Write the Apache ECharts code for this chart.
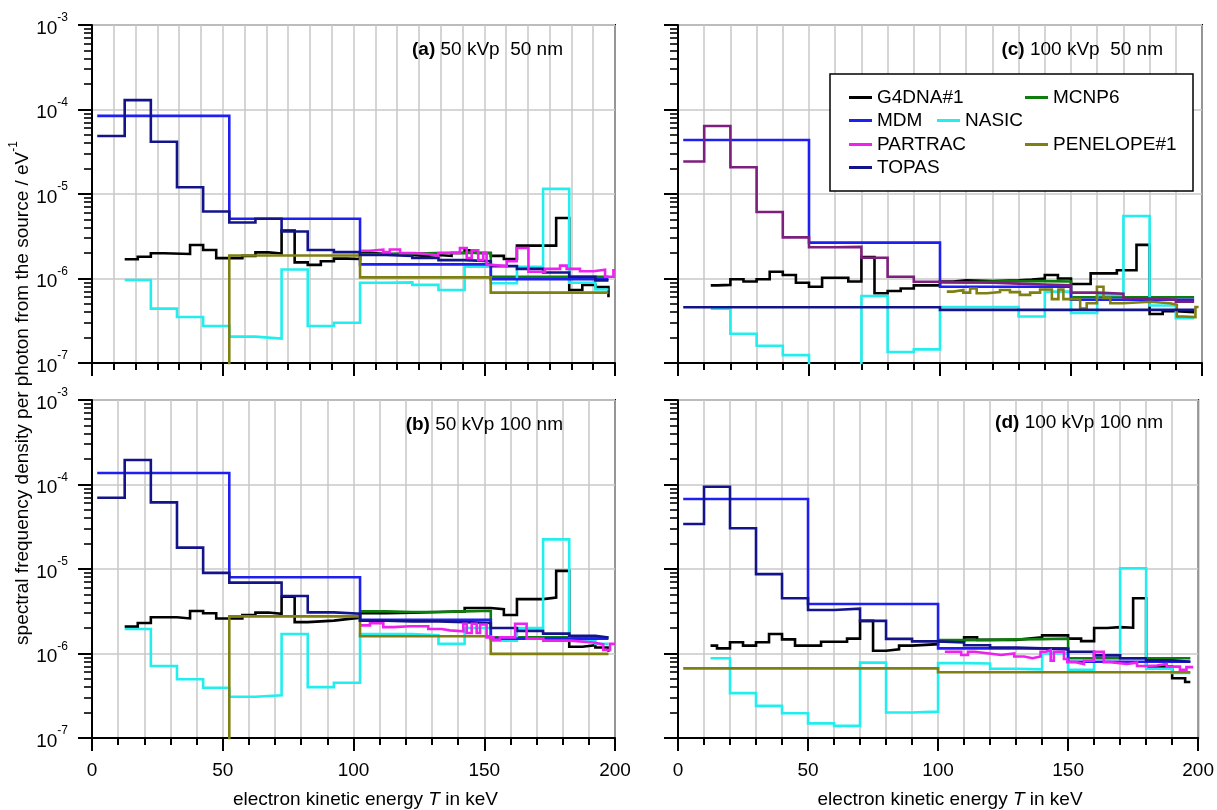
<!DOCTYPE html>
<html>
<head>
<meta charset="utf-8">
<script src="https://cdn.jsdelivr.net/npm/echarts@6.0.0/dist/echarts.min.js"></script>
<style>html,body{margin:0;padding:0;background:#fff}#chart{width:1217px;height:810px}</style>
</head>
<body>
<div id="chart"></div>
<script>
// ---------------- DATA (bin edges in keV, values per bin) ----------------
// Panel (a) 50 kVp 50 nm
const aG4_x = [12.5,17.5,22.5,27.5,37.5,42.5,47.5,57.5,62.5,67.5,72.5,77.5,82.5,87.5,92.5,97.5,102.5,107.5,112.5,117.5,122.5,127.5,132.5,137.5,142.5,147.5,152.5,157.5,162.5,177.5,182.5,187.5,192.5,197.5];
const aG4_y = [1.69e-6,1.81e-6,1.99e-6,1.95e-6,2.49e-6,2.17e-6,1.74e-6,1.85e-6,2.04e-6,1.98e-6,3.7e-6,1.55e-6,1.45e-6,1.6e-6,1.72e-6,1.7e-6,2.0e-6,1.95e-6,1.95e-6,1.9e-6,1.85e-6,1.9e-6,1.85e-6,2.0e-6,2.15e-6,2.0e-6,1.85e-6,1.7e-6,2.45e-6,5.2e-6,7.3e-7,8.4e-7,7.9e-7,6.0e-7];
const aMC_x = [102.5,112.5,122.5,132.5,142.5,152.5,197.5];
const aMC_y = [1.95e-6,1.97e-6,2.0e-6,2.02e-6,2.0e-6,1.05e-6];
const aMD_x = [2,52.5,102.5,152.5,197.5];
const aMD_y = [8.4e-5,5.1e-6,1.47e-6,9.8e-7];
const aNA_x = [12.5,22.5,32.5,42.5,52.5,62.5,72.5,82.5,92.5,102.5,112.5,122.5,132.5,142.5,152.5,162.5,172.5,182.5,192.5,197.5];
const aNA_y = [9.6e-7,4.4e-7,3.5e-7,2.74e-7,2.05e-7,1.95e-7,1.28e-6,2.74e-7,3.0e-7,8.9e-7,9.0e-7,8.4e-7,7.3e-7,1.38e-6,8.8e-7,1.38e-6,1.15e-5,8.9e-7,7.4e-7];
const aPA_x = [102.9,106.3,111.4,113.9,117.8,123.5,128,132.4,140.7,143.3,145.2,147.7,149.6,150.9,152.8,158.6,162.4,166.9,173.2,179,181.5,186.6,191.7,196.2,199.4,200];
const aPA_y = [2.13e-6,2.2e-6,2.05e-6,2.2e-6,2.0e-6,1.95e-6,1.87e-6,2.0e-6,2.3e-6,1.75e-6,2.15e-6,1.65e-6,2.0e-6,1.45e-6,1.4e-6,1.6e-6,2.3e-6,1.2e-6,1.3e-6,1.42e-6,1.3e-6,1.22e-6,1.27e-6,1.05e-6,1.25e-6];
const aPE_x = [42.5,52.5,102.5,152.5,197.5];
const aPE_y = [1e-8,1.87e-6,1.03e-6,6.8e-7];
const aTO_x = [2,12.5,22.5,32.5,42.5,52.5,62.5,72.5,82.5,92.5,102.5,112.5,122.5,132.5,142.5,152.5,162.5,172.5,182.5,192.5,197.5];
const aTO_y = [4.85e-5,1.29e-4,4.16e-5,1.2e-5,6.2e-6,4.6e-6,5.1e-6,3.6e-6,2.17e-6,2.05e-6,1.9e-6,1.85e-6,1.75e-6,1.65e-6,1.6e-6,1.4e-6,1.3e-6,1.18e-6,1.05e-6,9.5e-7];

// Panel (b) 50 kVp 100 nm
const bG4_x = [12.5,17.5,22.5,32.5,37.5,42.5,47.5,57.5,62.5,67.5,72.5,77.5,82.5,87.5,92.5,97.5,102.5,112.5,122.5,132.5,142.5,152.5,157.5,162.5,172.5,177.5,182.5,187.5,192.5,197.5];
const bG4_y = [2.08e-6,2.3e-6,2.69e-6,2.6e-6,3.19e-6,3.0e-6,2.6e-6,2.85e-6,3.05e-6,2.95e-6,4.7e-6,2.35e-6,2.4e-6,2.45e-6,2.55e-6,2.65e-6,3.0e-6,3.05e-6,3.1e-6,3.15e-6,3.45e-6,3.35e-6,2.85e-6,4.4e-6,4.6e-6,9.5e-6,1.2e-6,1.25e-6,1.18e-6,1.05e-6];
const bMC_x = [102.5,112.5,122.5,132.5,142.5,152.5,197.5];
const bMC_y = [3.15e-6,3.1e-6,3.1e-6,3.15e-6,3.2e-6,1.55e-6];
const bMD_x = [2,52.5,102.5,152.5,197.5];
const bMD_y = [1.37e-4,8.0e-6,2.5e-6,1.5e-6];
const bNA_x = [12.5,22.5,32.5,42.5,52.5,62.5,72.5,82.5,92.5,102.5,112.5,122.5,132.5,142.5,152.5,162.5,172.5,182.5,192.5,197.5];
const bNA_y = [1.95e-6,7.1e-7,4.95e-7,3.93e-7,3.08e-7,3.2e-7,1.7e-6,4.0e-7,4.5e-7,1.7e-6,1.7e-6,1.65e-6,1.3e-6,2.0e-6,1.42e-6,2.0e-6,2.24e-5,1.45e-6,1.3e-6];
const bPA_x = [102.9,106.3,111.4,115.2,121.6,128.6,133.7,136.9,142,143.3,145.2,147.1,148.4,150.9,153.5,156,161.8,166.2,172.6,182.8,191.7,195.5,198.1,200];
const bPA_y = [2.15e-6,2.28e-6,2.05e-6,2.1e-6,2.1e-6,1.95e-6,1.88e-6,1.83e-6,2.25e-6,1.75e-6,2.25e-6,1.75e-6,2.2e-6,1.55e-6,1.45e-6,1.55e-6,2.25e-6,1.5e-6,1.42e-6,1.35e-6,1.28e-6,1.1e-6,1.3e-6];
const bPE_x = [42.5,52.5,102.5,152.5,197.5];
const bPE_y = [1e-8,2.75e-6,1.6e-6,9.9e-7];
const bTO_x = [2,12.5,22.5,32.5,42.5,52.5,72.5,82.5,92.5,102.5,112.5,122.5,132.5,142.5,152.5,162.5,172.5,182.5,192.5,197.5];
const bTO_y = [6.98e-5,1.95e-4,6.15e-5,1.79e-5,9.0e-6,6.9e-6,4.8e-6,3.07e-6,2.95e-6,2.45e-6,2.4e-6,2.4e-6,2.35e-6,2.3e-6,2.0e-6,1.85e-6,1.72e-6,1.62e-6,1.55e-6];

// Panel (c) 100 kVp 50 nm
const cG4_x = [12.5,15,20,25,30,35,40,45,50,55,65,70,75,80,85,90,100,105,110,120,130,135,140,145,150,157.5,167.5,175,180,185,190,197];
const cG4_y = [8.3e-7,8.4e-7,9.8e-7,9.2e-7,9.8e-7,1.2e-6,1.1e-6,8.9e-7,8.0e-7,1.02e-6,9.2e-7,1.8e-6,6.7e-7,7.1e-7,7.6e-7,8.3e-7,9.2e-7,9.5e-7,9.3e-7,9.5e-7,9.7e-7,1.0e-6,1.1e-6,1.0e-6,8.6e-7,1.15e-6,1.25e-6,2.5e-6,3.8e-7,4.1e-7,4.0e-7];
const cMC_x = [100,110,120,130,140,150,197];
const cMC_y = [9.0e-7,9.2e-7,9.3e-7,9.3e-7,9.2e-7,6.0e-7];
const cMD_x = [2,50,100,150,197];
const cMD_y = [4.36e-5,2.66e-6,8.0e-7,5.6e-7];
const cNA_x = [12.5,20,30,40,50,70,80,90,100,110,120,130,140,150,160,170,180,190,197];
const cNA_y = [4.4e-7,2.22e-7,1.6e-7,1.24e-7,9e-8,6.2e-7,1.35e-7,1.45e-7,4.6e-7,4.6e-7,4.6e-7,3.55e-7,7.0e-7,3.9e-7,6.4e-7,5.5e-6,4.8e-7,3.4e-7];
const cPA_x = [2,10,20,30,40,50,60,70,80,90,100,110,120,130,140,150,160,170,180,190,197];
const cPA_y = [2.42e-5,6.38e-5,2.07e-5,6.12e-6,3.07e-6,2.34e-6,2.37e-6,1.76e-6,1.05e-6,9.16e-7,9.0e-7,8.9e-7,8.7e-7,8.5e-7,8.3e-7,6.8e-7,6.6e-7,5.8e-7,5.6e-7,5.3e-7];
const cPE_x = [102.6,105.1,108.9,111.5,114,117.8,122.9,126.7,130.5,134.4,138.2,142.7,145.2,147.1,149.7,153.5,156,159.9,162.4,165,170,180.2,187.8,190.4,193,197.5,198.7];
const cPE_y = [7.0e-7,7.3e-7,6.8e-7,7.6e-7,6.7e-7,6.9e-7,7.3e-7,6.9e-7,6.4e-7,6.8e-7,7.4e-7,5.7e-7,7.4e-7,5.7e-7,5.7e-7,4.4e-7,5.1e-7,8.0e-7,5.9e-7,5.1e-7,5.3e-7,5.1e-7,4.9e-7,3.55e-7,3.5e-7,4.6e-7];
const cTO_x = [2,100,197];
const cTO_y = [4.56e-7,4.25e-7];

// Panel (d) 100 kVp 100 nm
const dG4_x = [12.5,15,20,25,30,35,40,45,55,65,70,75,80,85,90,100,110,115,130,135,140,150,155,160,165,170,175,180,190,195,197];
const dG4_y = [1.24e-6,1.15e-6,1.36e-6,1.24e-6,1.36e-6,1.7e-6,1.47e-6,1.24e-6,1.38e-6,1.5e-6,2.43e-6,1.08e-6,1.12e-6,1.24e-6,1.29e-6,1.4e-6,1.55e-6,1.45e-6,1.5e-6,1.55e-6,1.64e-6,1.5e-6,1.4e-6,2.0e-6,2.05e-6,2.02e-6,4.5e-6,7.0e-7,5.1e-7,4.6e-7];
const dMC_x = [100,110,120,130,140,150,197];
const dMC_y = [1.44e-6,1.45e-6,1.47e-6,1.48e-6,1.5e-6,8.8e-7];
const dMD_x = [2,50,100,150,197];
const dMD_y = [6.73e-5,3.86e-6,1.15e-6,8.0e-7];
const dNA_x = [12.5,20,30,40,50,60,70,80,90,100,110,120,130,140,150,160,170,180,190,197];
const dNA_y = [8.8e-7,3.4e-7,2.4e-7,1.96e-7,1.49e-7,1.39e-7,7.8e-7,2.0e-7,2.05e-7,7.7e-7,7.6e-7,6.6e-7,6.5e-7,1.0e-6,6.4e-7,9.6e-7,1.02e-5,6.6e-7,5.9e-7];
const dPA_x = [102.6,108.9,111.5,114,119.7,124.2,129.3,133.1,136.3,139.4,141.4,143.3,144.5,148.4,149.7,152.9,156.1,159.9,163.7,166.2,172.6,176.5,180.3,184.1,187.9,193,195.5,198.1];
const dPA_y = [1.05e-6,9.6e-7,1.05e-6,1.0e-6,9.6e-7,1.0e-6,9.2e-7,8.8e-7,9.2e-7,1.05e-6,1.1e-6,8.2e-7,1.05e-6,8.6e-7,7.9e-7,7.5e-7,8.2e-7,1.05e-6,7.9e-7,7.5e-7,7.8e-7,7.1e-7,7.2e-7,7.5e-7,7.0e-7,6.4e-7,6.9e-7];
const dPE_x = [2,100,197];
const dPE_y = [6.67e-7,6.0e-7];
const dTO_x = [2,10,20,30,40,50,60,70,80,90,100,110,120,130,140,150,160,170,180,190,197];
const dTO_y = [3.41e-5,9.4e-5,3.03e-5,8.7e-6,4.5e-6,3.27e-6,3.4e-6,2.43e-6,1.49e-6,1.39e-6,1.35e-6,1.25e-6,1.18e-6,1.15e-6,1.12e-6,1.05e-6,9.5e-7,8.8e-7,8.3e-7,8.0e-7];

// Axis ticks / labels
const xTicks = [0, 50, 100, 150, 200];
const yRange = [1e-7, 1e-3];
const panelNotes = [['(a)',' 50 kVp  50 nm'],['(b)',' 50 kVp 100 nm'],['(c)',' 100 kVp  50 nm'],['(d)',' 100 kVp 100 nm']];
const yTitle = 'spectral frequency density per photon from the source / eV';
const xTitle = ['electron kinetic energy ', 'T', ' in keV'];

// ---------------- STYLE ----------------
const FONT = '"Liberation Sans", Arial, Helvetica, sans-serif';
const COLORS = {'G4DNA#1':'#000000','MCNP6':'#0d7d0d','MDM':'#1f1ff0','NASIC':'#22eeee','PARTRAC':'#ee22ee','PENELOPE#1':'#7f7f12','TOPAS':'#14148a'};
const PURPLE = '#7d1f7d';
const GRIDC = '#c8c8c8';

// order of drawing within each panel
const panels = [
  [['G4DNA#1',aG4_x,aG4_y],['MCNP6',aMC_x,aMC_y],['NASIC',aNA_x,aNA_y],['MDM',aMD_x,aMD_y],['PENELOPE#1',aPE_x,aPE_y],['TOPAS',aTO_x,aTO_y],['PARTRAC',aPA_x,aPA_y]],
  [['G4DNA#1',bG4_x,bG4_y],['MCNP6',bMC_x,bMC_y],['NASIC',bNA_x,bNA_y],['MDM',bMD_x,bMD_y],['PENELOPE#1',bPE_x,bPE_y],['TOPAS',bTO_x,bTO_y],['PARTRAC',bPA_x,bPA_y]],
  [['G4DNA#1',cG4_x,cG4_y],['MCNP6',cMC_x,cMC_y],['NASIC',cNA_x,cNA_y],['MDM',cMD_x,cMD_y],['PENELOPE#1',cPE_x,cPE_y],['TOPAS',cTO_x,cTO_y],['PARTRAC',cPA_x,cPA_y,PURPLE]],
  [['G4DNA#1',dG4_x,dG4_y],['MCNP6',dMC_x,dMC_y],['NASIC',dNA_x,dNA_y],['MDM',dMD_x,dMD_y],['PENELOPE#1',dPE_x,dPE_y],['TOPAS',dTO_x,dTO_y],['PARTRAC',dPA_x,dPA_y]]
];

function steps(edges, vals) {
  return edges.map((e, i) => [e, vals[Math.min(i, vals.length - 1)]]);
}

const gridBoxes = [[92,25,523,338],[92,400,523,338],[678,25,524,338],[678,400,524,338]];
const noteLayout = [[654,40],[654,415],[54,40],[54,413]];

const grid = gridBoxes.map(b => ({left:b[0], top:b[1], width:b[2], height:b[3], show:true, borderColor:'#000', borderWidth:2, backgroundColor:'rgba(0,0,0,0)'}));

const xAxis = gridBoxes.map((b, i) => ({
  gridIndex: i, type: 'value', min: xTicks[0], max: xTicks[xTicks.length-1], interval: xTicks[1]-xTicks[0],
  axisLine: {show: true, onZero: false, lineStyle: {color: '#000', width: 2}},
  axisTick: {show: true, inside: false, length: 13, lineStyle: {color: '#000', width: 2}},
  minorTick: {show: true, splitNumber: i === 0 ? 6 : 5, length: 7, lineStyle: {color: '#000', width: 2}},
  splitLine: {show: true, lineStyle: {color: GRIDC, width: 1.5}},
  minorSplitLine: {show: true, lineStyle: {color: GRIDC, width: 1.5}},
  axisLabel: {show: i % 2 === 1, fontSize: 19, color: '#000', fontFamily: FONT, margin: 23},
  name: i % 2 === 1 ? '{n|' + xTitle[0] + '}{i|' + xTitle[1] + '}{n|' + xTitle[2] + '}' : '',
  nameLocation: 'middle', nameGap: 52,
  nameTextStyle: {fontFamily: FONT, fontSize: 19, color: '#000', padding: [0,0,0,24],
    rich: {n: {fontSize: 19, fontFamily: FONT, color: '#000'}, i: {fontSize: 19, fontFamily: FONT, fontStyle: 'italic', color: '#000'}}}
}));

// log y axes: the minor ticks split each decade linearly into 9 steps => 2..9 x 10^n
const yAxis = gridBoxes.map((b, i) => ({
  gridIndex: i, type: 'log', logBase: 10, min: yRange[0], max: yRange[1], position: 'left',
  axisLine: {show: true, onZero: false, lineStyle: {color: '#000', width: 2}},
  axisTick: {show: true, inside: false, length: 14, lineStyle: {color: '#000', width: 2}},
  minorTick: {show: true, splitNumber: 9, length: 8, lineStyle: {color: '#000', width: 1.6}},
  minorSplitLine: {show: false},
  splitLine: {show: true, lineStyle: {color: GRIDC, width: 1.5}},
  axisLabel: {show: i < 2, margin: 24, color: '#000',
    formatter: v => '{b|10}{s|' + Math.round(Math.log10(v)) + '}',
    rich: {b: {fontSize: 19, fontFamily: FONT, color: '#000', lineHeight: 26, verticalAlign: 'bottom'},
           s: {fontSize: 12, fontFamily: FONT, color: '#000', verticalAlign: 'top'}}}
}));

const series = [];
panels.forEach((plist, i) => {
  plist.forEach(([name, xs, ys, col]) => {
    const c = col || COLORS[name];
    series.push({
      type: 'line', name, xAxisIndex: i, yAxisIndex: i, data: steps(xs, ys),
      step: 'end', symbol: 'none', showSymbol: false, clip: true, silent: true,
      lineStyle: {color: c, width: 2.6, join: 'miter', cap: 'butt'}, itemStyle: {color: c},
      emphasis: {disabled: true}, z: 3
    });
  });
});

const legendLayout = [[849,88],[1025,88],[849,111],[937,111],[849,135],[1025,135],[849,158]];
const legendOrder = ['G4DNA#1','MCNP6','MDM','NASIC','PARTRAC','PENELOPE#1','TOPAS'];
const legend = legendOrder.map((n, k) => ({
  data: [{name: n, itemStyle: {color: COLORS[n]}}], left: legendLayout[k][0], top: legendLayout[k][1],
  orient: 'horizontal', icon: 'rect', itemWidth: 23, itemHeight: 3, padding: 0, selectedMode: false,
  textStyle: {fontSize: 19, color: '#000', fontFamily: FONT}, z: 20
}));

const title = panelNotes.map((p, i) => ({
  text: '{b|' + p[0] + '}{n|' + p[1] + '}', right: noteLayout[i][0], top: noteLayout[i][1], padding: 0,
  textStyle: {fontWeight: 'normal', fontSize: 19, rich: {b: {fontWeight: 'bold', fontSize: 19, fontFamily: FONT, color: '#000'},
                     n: {fontWeight: 'normal', fontSize: 19, fontFamily: FONT, color: '#000'}}}
}));

const option = {
  animation: false,
  textStyle: {fontFamily: FONT},
  grid, xAxis, yAxis, series, legend, title,
  graphic: [
    {type: 'rect', z: 15, shape: {x: 830, y: 74, width: 363, height: 117}, style: {fill: '#fff', stroke: '#000', lineWidth: 1.5}},
    {type: 'text', z: 15, x: 20, y: 393, rotation: Math.PI / 2,
     style: {text: '{n|' + yTitle + '}{s|-1}', align: 'center', verticalAlign: 'middle',
       rich: {n: {fontSize: 19, fontFamily: FONT, fill: '#000', lineHeight: 24, verticalAlign: 'bottom'},
              s: {fontSize: 12, fontFamily: FONT, fill: '#000', verticalAlign: 'top'}}}}
  ]
};

const chart = echarts.init(document.getElementById('chart'), null, {renderer: 'canvas'});
chart.setOption(option);
</script>
</body>
</html>
